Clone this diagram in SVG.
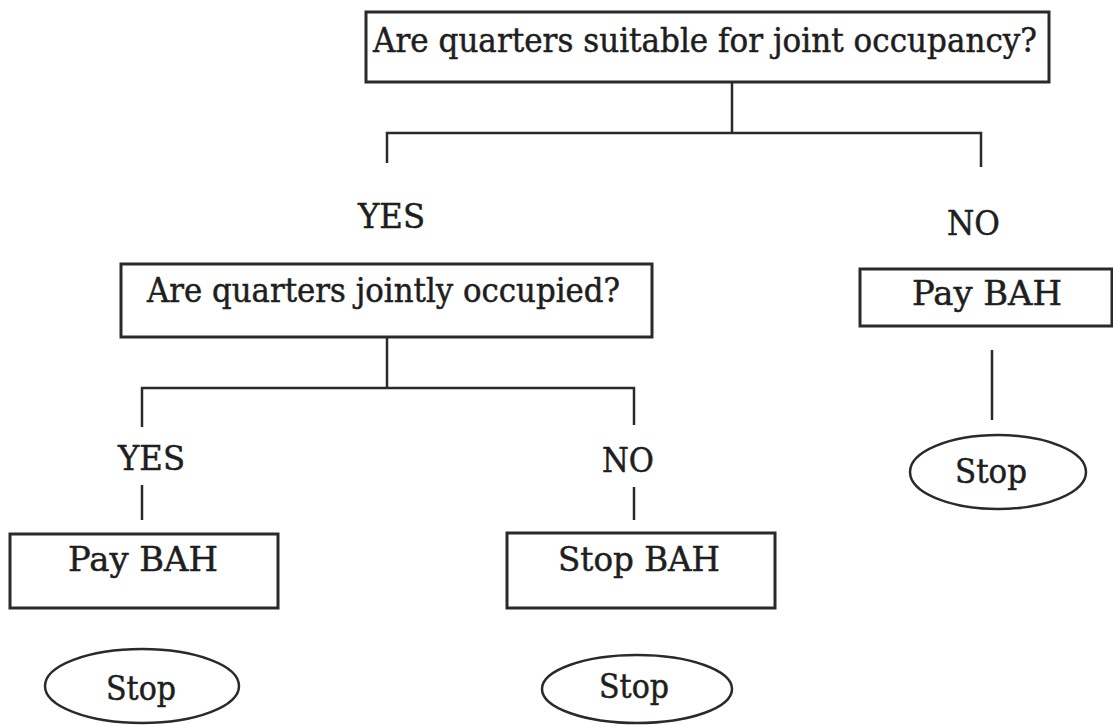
<svg xmlns="http://www.w3.org/2000/svg" width="1113" height="725" viewBox="0 0 1113 725">
<style>
.box{fill:#fff;stroke:#2a2a2a;stroke-width:3}
.oval{fill:#fff;stroke:#2a2a2a;stroke-width:2.5}
.ln{fill:none;stroke:#2a2a2a;stroke-width:2.5}
.t{font-family:"DejaVu Serif","Liberation Serif",serif;fill:#1e1e1e;font-size:33px;stroke:#1e1e1e;stroke-width:0.5}
</style>
<rect width="1113" height="725" fill="#fff"/>
<g id="connectors">
<path class="ln" d="M732,82 V133 M387,163 V133 H981 V167"/>
<path class="ln" d="M387,337 V388 M142,427 V388 H634 V425"/>
<path class="ln" d="M142,485 V520"/>
<path class="ln" d="M634,487 V520"/>
<path class="ln" d="M992,350 V420"/>
</g>
<g id="q1">
<rect class="box" x="366" y="12" width="683" height="70"/>
<text class="t" x="373" y="52" font-size="35" textLength="664" lengthAdjust="spacingAndGlyphs">Are quarters suitable for joint occupancy?</text>
</g>
<g id="yes1"><text class="t" x="358" y="228" textLength="67" lengthAdjust="spacingAndGlyphs">YES</text></g>
<g id="no1"><text class="t" x="947" y="235" textLength="53" lengthAdjust="spacingAndGlyphs">NO</text></g>
<g id="q2">
<rect class="box" x="121" y="264" width="531" height="73"/>
<text class="t" x="147" y="302" textLength="473" lengthAdjust="spacingAndGlyphs">Are quarters jointly occupied?</text>
</g>
<g id="payRight">
<rect class="box" x="860" y="269" width="252" height="57"/>
<text class="t" x="912" y="305" textLength="150" lengthAdjust="spacingAndGlyphs">Pay BAH</text>
</g>
<g id="stopRight">
<ellipse class="oval" cx="998" cy="472" rx="88" ry="37"/>
<text class="t" x="955" y="483" font-size="34" textLength="72" lengthAdjust="spacingAndGlyphs">Stop</text>
</g>
<g id="yes2"><text class="t" x="118" y="470" textLength="67" lengthAdjust="spacingAndGlyphs">YES</text></g>
<g id="no2"><text class="t" x="602" y="472" textLength="52" lengthAdjust="spacingAndGlyphs">NO</text></g>
<g id="payLeft">
<rect class="box" x="10" y="534" width="268" height="74"/>
<text class="t" x="68" y="571" textLength="150" lengthAdjust="spacingAndGlyphs">Pay BAH</text>
</g>
<g id="stopBah">
<rect class="box" x="507" y="533" width="268" height="75"/>
<text class="t" x="558" y="571" textLength="162" lengthAdjust="spacingAndGlyphs">Stop BAH</text>
</g>
<g id="stopLeft">
<ellipse class="oval" cx="142" cy="686" rx="97" ry="37"/>
<text class="t" x="106" y="700" font-size="34" textLength="70" lengthAdjust="spacingAndGlyphs">Stop</text>
</g>
<g id="stopMid">
<ellipse class="oval" cx="637" cy="689" rx="95" ry="34"/>
<text class="t" x="599" y="698" font-size="34" textLength="70" lengthAdjust="spacingAndGlyphs">Stop</text>
</g>
</svg>
